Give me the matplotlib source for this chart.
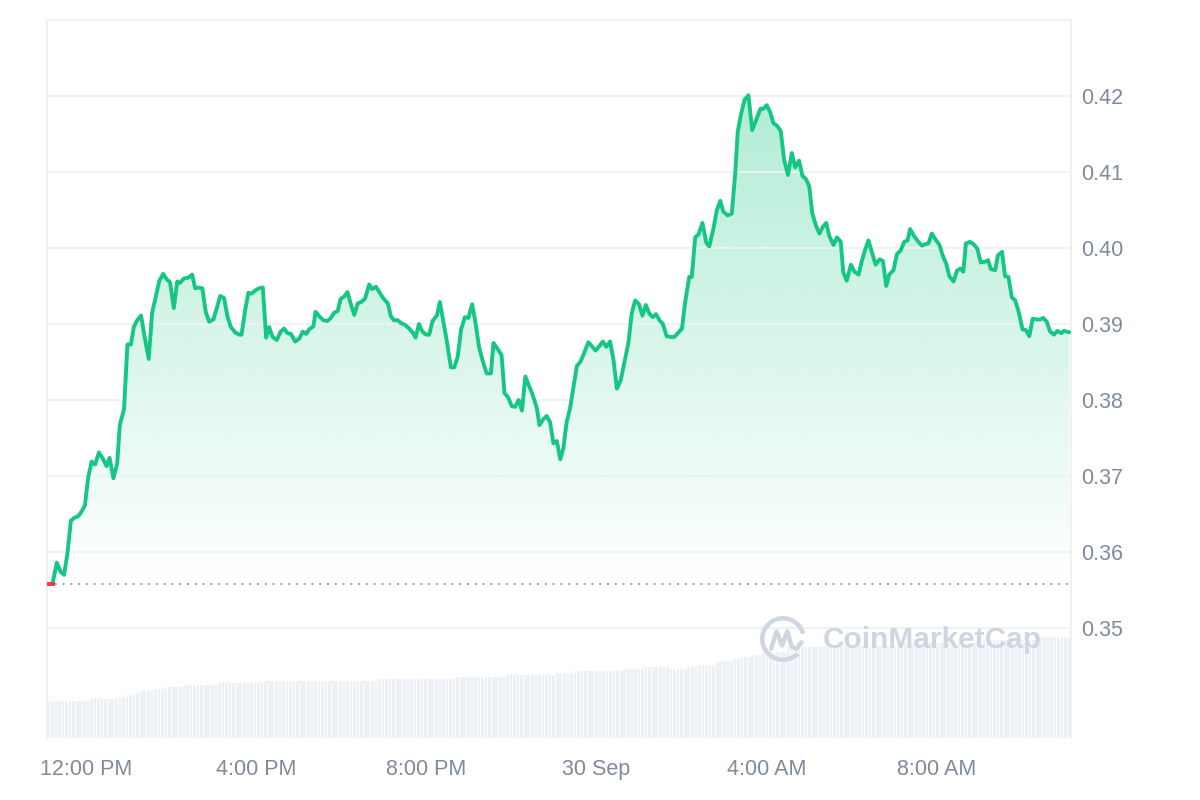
import matplotlib
matplotlib.use("Agg")
import matplotlib.pyplot as plt
import numpy as np
from matplotlib.colors import to_rgb
from matplotlib.patches import Arc

plt.rcParams['font.family'] = ['Liberation Sans', 'DejaVu Sans']

# hours since 12:00 PM, 29 Sep
hours = [-0.91, -0.78, -0.68, -0.59, -0.51, -0.43, -0.35, -0.27, -0.18, -0.10,
         -0.02, 0.06, 0.14, 0.22, 0.31, 0.40, 0.49, 0.56, 0.65, 0.74,
         0.80, 0.90, 0.98, 1.06, 1.13, 1.21, 1.30, 1.39, 1.48, 1.56,
         1.63, 1.73, 1.82, 1.90, 1.98, 2.07, 2.15, 2.21, 2.31, 2.41,
         2.50, 2.57, 2.64, 2.74, 2.82, 2.90, 3.00, 3.08, 3.16, 3.25,
         3.33, 3.41, 3.51, 3.61, 3.66, 3.74, 3.82, 3.90, 3.98, 4.07,
         4.16, 4.24, 4.31, 4.39, 4.49, 4.58, 4.66, 4.74, 4.82, 4.92,
         5.02, 5.10, 5.18, 5.25, 5.35, 5.40, 5.49, 5.58, 5.68, 5.76,
         5.84, 5.92, 5.99, 6.07, 6.15, 6.23, 6.31, 6.39, 6.47, 6.56,
         6.66, 6.73, 6.82, 6.90, 6.99, 7.10, 7.17, 7.24, 7.33, 7.41,
         7.50, 7.60, 7.68, 7.75, 7.83, 7.91, 8.00, 8.07, 8.15, 8.25,
         8.32, 8.40, 8.48, 8.58, 8.66, 8.74, 8.82, 8.91, 8.99, 9.08,
         9.16, 9.24, 9.33, 9.42, 9.52, 9.58, 9.67, 9.77, 9.84, 9.92,
         10.01, 10.09, 10.17, 10.25, 10.33, 10.42, 10.50, 10.60, 10.66, 10.74,
         10.83, 10.91, 10.99, 11.07, 11.15, 11.22, 11.30, 11.38, 11.46, 11.54,
         11.62, 11.69, 11.81, 11.89, 11.98, 12.07, 12.15, 12.23, 12.32, 12.40,
         12.48, 12.57, 12.65, 12.75, 12.83, 12.91, 13.00, 13.08, 13.16, 13.24,
         13.32, 13.40, 13.48, 13.56, 13.65, 13.75, 13.83, 13.93, 14.01, 14.08,
         14.18, 14.24, 14.32, 14.40, 14.49, 14.58, 14.65, 14.75, 14.83, 14.91,
         14.98, 15.08, 15.18, 15.26, 15.32, 15.40, 15.48, 15.57, 15.66, 15.75,
         15.85, 15.92, 16.00, 16.08, 16.16, 16.24, 16.33, 16.41, 16.50, 16.59,
         16.67, 16.76, 16.84, 16.93, 17.00, 17.07, 17.16, 17.24, 17.32, 17.40,
         17.47, 17.57, 17.65, 17.74, 17.80, 17.88, 17.98, 18.06, 18.16, 18.24,
         18.31, 18.39, 18.47, 18.56, 18.65, 18.73, 18.81, 18.88, 18.98, 19.06,
         19.15, 19.23, 19.31, 19.37, 19.46, 19.55, 19.65, 19.72, 19.80, 19.88,
         19.97, 20.06, 20.13, 20.22, 20.29, 20.39, 20.47, 20.55, 20.62, 20.68,
         20.78, 20.86, 20.95, 21.03, 21.13, 21.20, 21.27, 21.37, 21.43, 21.53,
         21.60, 21.68, 21.76, 21.84, 21.93, 22.01, 22.09, 22.17, 22.25, 22.35,
         22.43, 22.50, 22.58, 22.66, 22.75, 22.83, 22.92, 22.99, 23.11]

prices = [0.3558, 0.3558, 0.3586, 0.3574, 0.3570, 0.3598, 0.3641, 0.3645, 0.3647, 0.3653,
          0.3661, 0.3699, 0.3719, 0.3715, 0.3731, 0.3723, 0.3713, 0.3724, 0.3697, 0.3717,
          0.3767, 0.3788, 0.3873, 0.3873, 0.3896, 0.3905, 0.3911, 0.3881, 0.3854, 0.3915,
          0.3932, 0.3957, 0.3966, 0.3959, 0.3955, 0.3921, 0.3956, 0.3954, 0.3960, 0.3961,
          0.3965, 0.3947, 0.3948, 0.3947, 0.3916, 0.3903, 0.3906, 0.3921, 0.3937, 0.3934,
          0.3910, 0.3896, 0.3889, 0.3886, 0.3886, 0.3916, 0.3941, 0.3940, 0.3944, 0.3947,
          0.3948, 0.3882, 0.3896, 0.3883, 0.3879, 0.3890, 0.3894, 0.3888, 0.3887, 0.3877,
          0.3881, 0.3890, 0.3887, 0.3893, 0.3897, 0.3916, 0.3910, 0.3905, 0.3904, 0.3908,
          0.3915, 0.3917, 0.3933, 0.3936, 0.3942, 0.3926, 0.3912, 0.3927, 0.3929, 0.3933,
          0.3952, 0.3946, 0.3949, 0.3942, 0.3934, 0.3927, 0.3910, 0.3905, 0.3905, 0.3901,
          0.3899, 0.3894, 0.3889, 0.3882, 0.3900, 0.3890, 0.3886, 0.3886, 0.3904, 0.3911,
          0.3929, 0.3904, 0.3879, 0.3843, 0.3843, 0.3857, 0.3893, 0.3909, 0.3908, 0.3926,
          0.3901, 0.3870, 0.3851, 0.3835, 0.3835, 0.3875, 0.3868, 0.3859, 0.3809, 0.3804,
          0.3792, 0.3791, 0.3800, 0.3786, 0.3831, 0.3818, 0.3807, 0.3789, 0.3767, 0.3774,
          0.3779, 0.3771, 0.3743, 0.3746, 0.3722, 0.3736, 0.3771, 0.3789, 0.3817, 0.3845,
          0.3850, 0.3859, 0.3876, 0.3871, 0.3865, 0.3871, 0.3877, 0.3870, 0.3877, 0.3853,
          0.3815, 0.3826, 0.3848, 0.3875, 0.3914, 0.3931, 0.3926, 0.3911, 0.3925, 0.3914,
          0.3909, 0.3913, 0.3905, 0.3900, 0.3884, 0.3883, 0.3883, 0.3889, 0.3894, 0.3927,
          0.3962, 0.3962, 0.4014, 0.4018, 0.4033, 0.4007, 0.4002, 0.4026, 0.4050, 0.4062,
          0.4048, 0.4043, 0.4045, 0.4098, 0.4153, 0.4177, 0.4195, 0.4201, 0.4155, 0.4168,
          0.4183, 0.4183, 0.4188, 0.4179, 0.4164, 0.4161, 0.4154, 0.4116, 0.4096, 0.4125,
          0.4106, 0.4115, 0.4095, 0.4090, 0.4081, 0.4046, 0.4029, 0.4019, 0.4028, 0.4033,
          0.4016, 0.4004, 0.4014, 0.4008, 0.3968, 0.3957, 0.3978, 0.3969, 0.3965, 0.3984,
          0.3997, 0.4010, 0.3995, 0.3978, 0.3985, 0.3983, 0.3950, 0.3965, 0.3971, 0.3992,
          0.3997, 0.4008, 0.4010, 0.4025, 0.4016, 0.4009, 0.4003, 0.4005, 0.4006, 0.4019,
          0.4011, 0.4004, 0.3991, 0.3979, 0.3963, 0.3956, 0.3970, 0.3973, 0.3969, 0.4006,
          0.4008, 0.4005, 0.3999, 0.3981, 0.3982, 0.3984, 0.3972, 0.3971, 0.3990, 0.3995,
          0.3963, 0.3962, 0.3935, 0.3931, 0.3914, 0.3893, 0.3892, 0.3884, 0.3907, 0.3906,
          0.3906, 0.3908, 0.3903, 0.3890, 0.3886, 0.3891, 0.3888, 0.3891, 0.3889]

open_price = 0.3558

# volume (M), read as runs of equal bars
vol_levels = [3.72, 3.92, 4.12, 4.32, 4.52, 4.72, 4.92, 5.12, 5.32, 5.52, 5.72, 5.92,
              6.12, 6.32, 6.52, 6.72, 6.92, 7.12, 6.92, 7.12, 7.32, 7.52, 7.72, 7.92,
              8.12, 8.32, 8.60, 9.08, 9.20, 9.50, 9.80, 10.15]
vol_counts = [12, 8, 2, 2, 2, 4, 3, 5, 10, 13, 32, 22,
              14, 14, 5, 14, 6, 7, 5, 3, 5, 1, 4, 2,
              3, 3, 7, 10, 23, 22, 16, 9]

xticks = [0, 4, 8, 12, 16, 20]
xlabels = ['12:00 PM', '4:00 PM', '8:00 PM', '30 Sep', '4:00 AM', '8:00 AM']
yticks = [0.35, 0.36, 0.37, 0.38, 0.39, 0.40, 0.41, 0.42]

green = '#16c784'
red = '#ea3943'
grey_txt = '#808a9d'
grid_c = '#eff2f5'

hours = np.array(hours)
prices = np.array(prices)
volume = np.repeat(vol_levels, vol_counts)

fig = plt.figure(figsize=(12, 8), dpi=100)
rect = [47 / 1200, 62 / 800, 1024 / 1200, 718 / 800]
xmin, xmax = -0.91, 23.15

# volume bars behind
axv = fig.add_axes(rect)
vx = np.linspace(xmin, xmax, len(volume) + 1)
vx = (vx[:-1] + vx[1:]) / 2
step = (xmax - xmin) / len(volume)
axv.bar(vx, volume, width=step * 0.78, color='#edf0f4', linewidth=0)
axv.set_xlim(xmin, xmax)
axv.set_ylim(0, 71.8)
axv.axis('off')

ax = fig.add_axes(rect)
ax.patch.set_alpha(0)

# gradient fill between line and baseline
poly = ax.fill_between(hours, prices, open_price, color='none', linewidth=0)
n = 256
rgba = np.zeros((n, 1, 4))
rgba[..., :3] = to_rgb(green)
rgba[:, 0, 3] = np.linspace(0, 0.36, n)
img = ax.imshow(rgba, extent=[xmin, xmax, open_price, 0.4255], origin='lower',
                aspect='auto', zorder=1, interpolation='bilinear')
img.set_clip_path(poly.get_paths()[0], transform=ax.transData)

ax.axhline(open_price, color='#9aa0ac', lw=1.4, ls=(0, (1, 3)), zorder=2)
ax.plot(hours[1:], prices[1:], color=green, lw=2.8, zorder=4,
        solid_joinstyle='round', solid_capstyle='round')
ax.plot(hours[:2], prices[:2], color=red, lw=2.8, zorder=5)

ax.set_xlim(xmin, xmax)
ax.set_ylim(0.33553, 0.43)

ax.set_yticks(yticks)
ax.set_yticklabels(['%.2f' % v for v in yticks])
ax.yaxis.tick_right()
ax.set_xticks(xticks)
ax.set_xticklabels(xlabels)
ax.tick_params(axis='both', length=0, labelsize=15.5, labelcolor=grey_txt)
ax.tick_params(axis='y', pad=7.5)
ax.tick_params(axis='x', pad=15)
ax.grid(axis='y', color=grid_c, lw=1.3, zorder=0)

for s in ['left', 'right', 'top']:
    ax.spines[s].set_color(grid_c)
    ax.spines[s].set_linewidth(1.5)
ax.spines['bottom'].set_visible(False)

# watermark
fig.text(823 / 1200, 1 - 640 / 800, 'CoinMarketCap', fontsize=21.5, fontweight='bold',
         color='#cfd5e1', va='center', ha='left', zorder=6)
axl = fig.add_axes([759 / 1200, 1 - 663 / 800, 48 / 1200, 48 / 800])
axl.set_xlim(-1.1, 1.1)
axl.set_ylim(-1.1, 1.1)
axl.axis('off')
axl.add_patch(Arc((0, 0), 1.9, 1.9, theta1=15, theta2=315, color='#cfd5e1', lw=3.2))
axl.plot([-0.55, -0.3, -0.05, 0.2, 0.4, 0.62, 0.85], [-0.45, 0.35, -0.3, 0.35, -0.35, -0.45, -0.15],
         color='#cfd5e1', lw=3.2, solid_joinstyle='round', solid_capstyle='round')

fig.savefig('out.png', dpi=100)
